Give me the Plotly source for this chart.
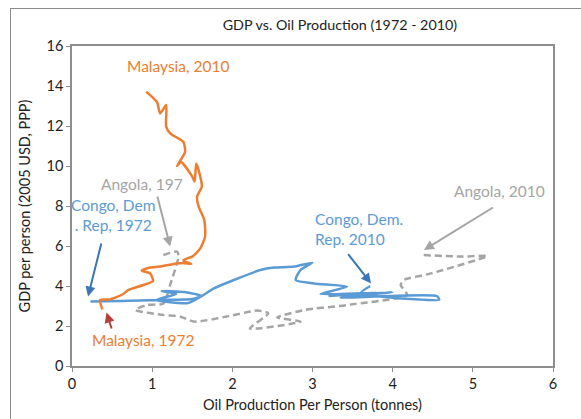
import plotly.graph_objects as go

# ---- data ----
malaysia_x = [0.38, 0.35, 0.475, 0.64, 0.70, 0.89, 1.01, 0.975, 0.87, 0.95,
              1.1, 1.3, 1.38, 1.49, 1.41, 1.39, 1.5, 1.6, 1.66, 1.65,
              1.58, 1.56, 1.62, 1.6, 1.55, 1.53, 1.5, 1.36, 1.31, 1.41,
              1.39, 1.225, 1.175, 1.175, 1.1, 1.06, 0.925]
malaysia_y = [2.83, 3.3, 3.33, 3.6, 3.8, 4.05, 4.25, 4.63, 4.77, 4.9,
              4.97, 5.12, 5.15, 5.1, 5.22, 5.3, 5.47, 5.88, 6.47, 7.3,
              7.97, 8.47, 8.97, 9.47, 10.13, 9.22, 9.47, 10.2, 10.0, 10.7,
              11.2, 11.63, 11.97, 13.05, 12.63, 13.2, 13.72]

congo_x = [0.23, 0.6, 1.1, 1.5, 1.62, 1.4, 1.12, 1.3, 1.05, 1.45,
           1.64, 1.77, 2.02, 2.35, 2.52, 2.77, 3.0, 2.85, 2.79, 3.02,
           3.43, 3.1, 3.8, 3.2, 4.0, 3.35, 4.55, 4.58, 3.9, 3.6, 3.72]
congo_y = [3.22, 3.25, 3.3, 3.35, 3.5, 3.7, 3.75, 3.6, 3.3, 3.15,
           3.55, 3.88, 4.3, 4.8, 4.92, 4.97, 5.17, 4.8, 4.3, 4.13,
           3.97, 3.6, 3.65, 3.5, 3.7, 3.42, 3.5, 3.32, 3.45, 3.65, 4.0]

angola_x = [1.14, 1.31, 1.33, 1.23, 1.14, 0.93, 0.79, 1.14, 1.35, 1.52,
            1.93, 2.31, 2.45, 2.22, 2.85, 2.56, 2.9, 3.43, 4.18, 4.1,
            4.14, 4.48, 5.18, 4.85, 4.37]
angola_y = [5.55, 5.72, 5.5, 4.13, 3.13, 3.05, 2.8, 2.55, 2.47, 2.22,
            2.47, 2.77, 2.63, 1.88, 2.22, 2.43, 2.8, 3.05, 3.55, 4.05,
            4.3, 4.63, 5.5, 5.47, 5.55]

x_ticks = [0, 1, 2, 3, 4, 5, 6]
y_ticks = [0, 2, 4, 6, 8, 10, 12, 14, 16]

ORANGE = "#ED7D31"
BLUE = "#5B9BD5"
GRAY = "#A5A5A5"
DARKBLUE = "#3A75B8"
DARKRED = "#B4403E"
FONT = "Lato"

fig = go.Figure()
fig.add_trace(go.Scatter(x=angola_x, y=angola_y, mode="lines",
                         line=dict(color=GRAY, width=2.5, dash="7px,4px",
                                   shape="spline", smoothing=0.6),
                         name="Angola", showlegend=False))
fig.add_trace(go.Scatter(x=congo_x, y=congo_y, mode="lines",
                         line=dict(color=BLUE, width=2.5, shape="spline", smoothing=0.6),
                         name="Congo, Dem. Rep.", showlegend=False))
fig.add_trace(go.Scatter(x=malaysia_x, y=malaysia_y, mode="lines",
                         line=dict(color=ORANGE, width=2.5, shape="spline", smoothing=0.6),
                         name="Malaysia", showlegend=False))

def arrow(tail, head, color):
    fig.add_annotation(x=head[0], y=head[1], ax=tail[0], ay=tail[1],
                       xref="x", yref="y", axref="x", ayref="y",
                       text="", showarrow=True, arrowhead=2, arrowsize=1,
                       arrowwidth=2, arrowcolor=color)

def label(x, y, text, color, xanchor="center", align="center"):
    fig.add_annotation(x=x, y=y, xref="x", yref="y", text=text, showarrow=False,
                       xanchor=xanchor, yanchor="middle", align=align,
                       font=dict(family=FONT, size=15.5, color=color))

arrow((1.06, 8.55), (1.225, 5.97), GRAY)
arrow((0.37, 6.2), (0.20, 3.47), DARKBLUE)
arrow((0.50, 1.8), (0.43, 2.67), DARKRED)
arrow((3.43, 5.67), (3.73, 4.13), DARKBLUE)
arrow((5.27, 7.97), (4.39, 5.8), GRAY)

label(1.325, 15.0, "Malaysia, 2010", ORANGE)
label(0.87, 9.1, "Angola, 197", GRAY)
label(0.51, 7.57, "Congo, Dem<br>. Rep, 1972", BLUE)
label(0.89, 1.3, "Malaysia, 1972", ORANGE)
label(3.01, 6.87, "Congo, Dem.<br>Rep. 2010", BLUE, xanchor="left", align="left")
label(5.335, 8.77, "Angola, 2010", GRAY)

# outer chart-area border (left and top edges visible, rest runs off the page)
fig.add_annotation(xref="paper", yref="paper", x=-0.129, y=1.119,
                   xanchor="left", yanchor="top", text=" ", showarrow=False,
                   width=620, height=460, borderpad=0, borderwidth=1,
                   bordercolor="#8C8C8C")

axis_common = dict(showgrid=False, zeroline=False, showline=True,
                   linecolor="#8E8E8E", linewidth=1.5, mirror=True,
                   ticks="outside", ticklen=4, tickcolor="#8E8E8E",
                   automargin=False,
                   tickfont=dict(family=FONT, size=14.5, color="#222"))

fig.update_layout(
    width=581, height=419,
    margin=dict(l=72, r=28, t=46, b=53),
    paper_bgcolor="white", plot_bgcolor="white",
    title=dict(text="GDP vs. Oil Production (1972 - 2010)", x=0.585, xanchor="center",
               y=0.94, yanchor="middle",
               font=dict(family=FONT, size=14.3, color="#222")),
    xaxis=dict(range=[0, 6], tickvals=x_ticks, **axis_common,
               title=dict(text="Oil Production Per Person (tonnes)", standoff=9,
                          font=dict(family=FONT, size=14.5, color="#222"))),
    yaxis=dict(range=[0, 16], tickvals=y_ticks, **axis_common,
               title=dict(text="GDP per person (2005 USD, PPP)", standoff=12,
                          font=dict(family=FONT, size=14.5, color="#222"))),
)

fig.write_html("out.html", config={"displayModeBar": False},
               post_script="document.body.style.margin='0';document.body.style.overflow='hidden';")
